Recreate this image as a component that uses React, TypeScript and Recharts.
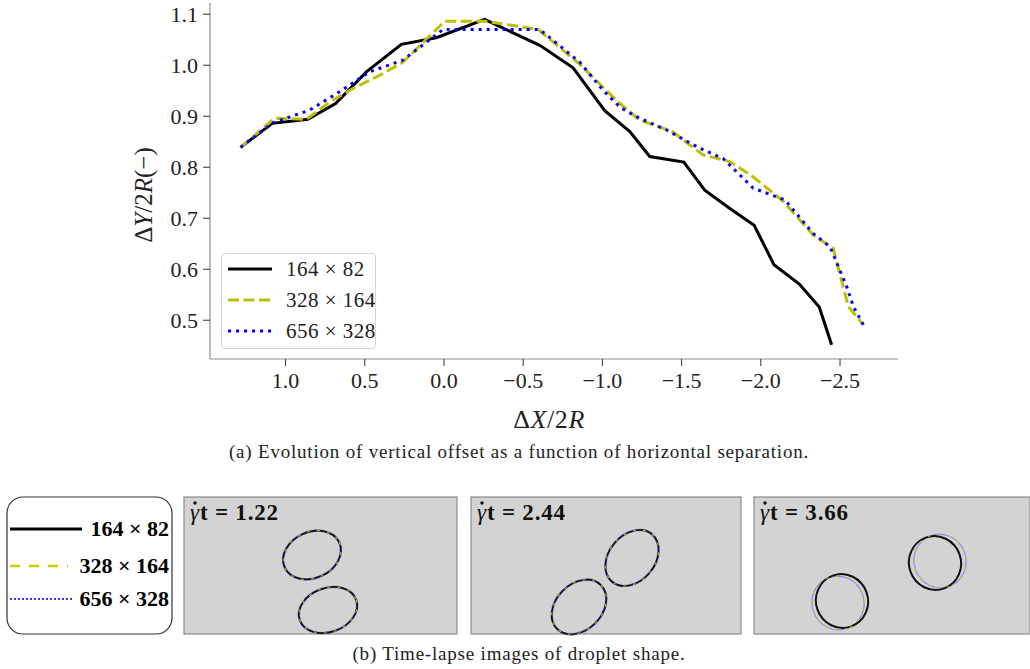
import React from 'react';
import { LineChart, Line, XAxis, YAxis, Legend } from 'recharts';

const SERIF = '"Liberation Serif", "DejaVu Serif", serif';

const xTicks = [1.0, 0.5, 0.0, -0.5, -1.0, -1.5, -2.0, -2.5];
const yTicks = [0.5, 0.6, 0.7, 0.8, 0.9, 1.0, 1.1];
const xDomain = [-2.866, 1.477];
const yDomain = [0.424, 1.122];

// 164 x 82
const coarseX = [1.284, 1.084, 0.859, 0.684, 0.49, 0.269, 0.048, -0.257, -0.426, -0.605, -0.815, -1.015, -1.173, -1.299, -1.514, -1.646, -1.8, -1.958, -2.083, -2.243, -2.369, -2.447];
const coarseY = [0.839, 0.886, 0.894, 0.925, 0.987, 1.041, 1.054, 1.09, 1.065, 1.039, 0.995, 0.911, 0.87, 0.821, 0.81, 0.755, 0.72, 0.686, 0.609, 0.571, 0.526, 0.452];

// 328 x 164
const mediumX = [1.284, 1.069, 0.869, 0.701, 0.564, 0.407, 0.259, -0.004, -0.268, -0.594, -0.857, -1.099, -1.236, -1.437, -1.636, -1.805, -1.952, -2.142, -2.331, -2.457, -2.552, -2.647];
const mediumY = [0.839, 0.896, 0.894, 0.932, 0.956, 0.98, 1.006, 1.086, 1.086, 1.07, 1.002, 0.928, 0.892, 0.871, 0.824, 0.811, 0.781, 0.733, 0.667, 0.641, 0.527, 0.491];

// 656 x 328
const fineX = [1.284, 1.08, 0.848, 0.659, 0.469, 0.259, 0.006, -0.605, -0.857, -1.004, -1.11, -1.215, -1.405, -1.615, -1.762, -1.952, -2.152, -2.331, -2.437, -2.542, -2.584, -2.647];
const fineY = [0.839, 0.887, 0.912, 0.948, 0.987, 1.01, 1.07, 1.07, 1.006, 0.951, 0.918, 0.899, 0.873, 0.837, 0.817, 0.759, 0.736, 0.67, 0.644, 0.566, 0.527, 0.491];

const zip = (xs: number[], ys: number[]) => xs.map((x, i) => ({ x, y: ys[i] }));

const series = [
  { name: '164 × 82', data: zip(coarseX, coarseY), color: '#000000', dash: undefined as string | undefined },
  { name: '328 × 164', data: zip(mediumX, mediumY), color: '#bfbf00', dash: '11 4.5' },
  { name: '656 × 328', data: zip(fineX, fineY), color: '#0000ff', dash: '3 5' },
];

// droplet outlines in the time-lapse panels (panel-local pixel geometry)
const panels = [
  { x: 184, w: 273, label: '1.22', drops: [
    { cx: 128, cy: 58, rx: 30, ry: 23, rot: -25, ox: 0, oy: 0 },
    { cx: 144, cy: 113, rx: 30, ry: 22, rot: -20, ox: 0, oy: 0 },
  ] },
  { x: 471, w: 270, label: '2.44', drops: [
    { cx: 161, cy: 61, rx: 31, ry: 23, rot: -50, ox: 0, oy: 0 },
    { cx: 108, cy: 110, rx: 31, ry: 23, rot: -45, ox: 0, oy: 0 },
  ] },
  { x: 754, w: 276, label: '3.66', drops: [
    { cx: 181, cy: 66, rx: 27, ry: 26, rot: 70, ox: 5, oy: -2 },
    { cx: 88, cy: 104, rx: 27, ry: 26, rot: 70, ox: -4, oy: 2 },
  ] },
];

const fmt = (v: number) => v.toFixed(1).replace('-', '−');

const PlotLegend = () => (
  <div style={{ width: 155, height: 96, boxSizing: 'border-box', border: '1px solid #d6d6d6', borderRadius: 4, background: 'rgba(255,255,255,0.85)' }}>
    <svg width={153} height={94} style={{ display: 'block' }}>
      {series.map((s, i) => (
        <g key={s.name}>
          <line x1={6} x2={50} y1={15 + i * 31} y2={15 + i * 31} stroke={s.color} strokeWidth={3} strokeDasharray={s.dash} />
          <text x={64} y={22 + i * 31} fontFamily={SERIF} fontSize={21} letterSpacing={0.5} fill="#222">{s.name}</text>
        </g>
      ))}
    </svg>
  </div>
);

const YTitle = () => (
  <text transform="translate(143, 195) rotate(-90)" textAnchor="middle" dominantBaseline="central" fontFamily={SERIF} fontSize={25} fill="#222">
    Δ<tspan fontStyle="italic">Y</tspan>/2<tspan fontStyle="italic">R</tspan>(−)
  </text>
);

const XTitle = (p: any) => {
  const vb = p.viewBox || { x: 210, y: 359, width: 688, height: 40 };
  return (
    <text x={549} y={vb.y + 69} textAnchor="middle" fontFamily={SERIF} fontSize={26} letterSpacing={0.6} fill="#222">
      Δ<tspan fontStyle="italic">X</tspan>/2<tspan fontStyle="italic">R</tspan>
    </text>
  );
};

const Droplets = () => (
  <svg width={1030} height={189} style={{ position: 'absolute', left: 0, top: 480 }}>
    <rect x={7} y={17} width={165} height={137} rx={16} fill="#fff" stroke="#333" strokeWidth={1.2} />
    <line x1={10} x2={82} y1={49} y2={49} stroke="#000" strokeWidth={3} />
    <text x={169} y={56} textAnchor="end" fontFamily={SERIF} fontWeight="bold" fontSize={22}>164 × 82</text>
    <line x1={10} x2={68} y1={86} y2={86} stroke="#cccc00" strokeWidth={2.5} strokeDasharray="10 9" />
    <text x={169} y={93} textAnchor="end" fontFamily={SERIF} fontWeight="bold" fontSize={22}>328 × 164</text>
    <line x1={10} x2={72} y1={119} y2={119} stroke="#3333ff" strokeWidth={2.2} strokeDasharray="2 2" />
    <text x={169} y={126} textAnchor="end" fontFamily={SERIF} fontWeight="bold" fontSize={22}>656 × 328</text>
    {panels.map((p) => (
      <g key={p.label} transform={`translate(${p.x}, 17)`}>
        <rect x={0} y={0} width={p.w} height={137} fill="#d3d3d3" stroke="#8c8c8c" strokeWidth={1.2} />
        <text x={6} y={23} fontFamily={SERIF} fontWeight="bold" fontSize={23} letterSpacing={0.8} fill="#111">
          <tspan fontStyle="italic" fontWeight="normal">γ</tspan>t = {p.label}
        </text>
        <circle cx={11} cy={6} r={1.7} fill="#111" />
        {p.drops.map((d, i) => (
          <g key={i}>
            <ellipse cx={d.cx + d.ox} cy={d.cy + d.oy} rx={d.rx} ry={d.ry} transform={`rotate(${d.rot} ${d.cx + d.ox} ${d.cy + d.oy})`} fill="none" stroke="#8c8cf0" strokeWidth={d.ox ? 1.2 : 2.6} />
            <ellipse cx={d.cx} cy={d.cy} rx={d.rx} ry={d.ry} transform={`rotate(${d.rot} ${d.cx} ${d.cy})`} fill="none" stroke="#111" strokeWidth={d.ox ? 2 : 1.7} />
            <ellipse cx={d.cx + d.ox} cy={d.cy + d.oy} rx={d.rx} ry={d.ry} transform={`rotate(${d.rot} ${d.cx + d.ox} ${d.cy + d.oy})`} fill="none" stroke="#c8c800" strokeWidth={1} strokeDasharray="3 7" />
          </g>
        ))}
      </g>
    ))}
  </svg>
);

export default function App() {
  return (
    <div style={{ position: 'absolute', left: 0, top: 0, width: 1030, height: 669, background: '#fff', fontFamily: SERIF, color: '#222' }}>
      <LineChart width={1030} height={440} margin={{ top: 3, right: 132, left: 120, bottom: 41 }}>
        <XAxis
          dataKey="x"
          type="number"
          domain={xDomain}
          reversed
          allowDataOverflow
          ticks={xTicks}
          tickFormatter={fmt}
          height={40}
          tickSize={7}
          tickMargin={6}
          axisLine={{ stroke: '#8c8c8c', strokeWidth: 1.2 }}
          tickLine={{ stroke: '#333' }}
          tick={{ fontSize: 22, fontFamily: SERIF, fill: '#222' }}
          label={XTitle}
        />
        <XAxis xAxisId="top" orientation="top" type="number" domain={xDomain} reversed allowDataOverflow height={0} tick={false} tickLine={false} axisLine={{ stroke: '#8c8c8c', strokeWidth: 1.2 }} />
        <YAxis
          type="number"
          domain={yDomain}
          allowDataOverflow
          ticks={yTicks}
          tickFormatter={fmt}
          width={90}
          tickSize={7}
          tickMargin={5}
          axisLine={{ stroke: '#8c8c8c', strokeWidth: 1.2 }}
          tickLine={{ stroke: '#333' }}
          tick={{ fontSize: 22, fontFamily: SERIF, fill: '#222' }}
          label={YTitle}
        />
        <YAxis yAxisId="right" orientation="right" type="number" domain={yDomain} allowDataOverflow width={0} tick={false} tickLine={false} axisLine={{ stroke: '#8c8c8c', strokeWidth: 1.2 }} />
        {series.map((s) => (
          <Line
            key={s.name}
            data={s.data}
            dataKey="y"
            name={s.name}
            type="linear"
            stroke={s.color}
            strokeWidth={3}
            strokeDasharray={s.dash}
            dot={false}
            activeDot={false}
            isAnimationActive={false}
          />
        ))}
        <Legend
          layout="vertical"
          align="center"
          verticalAlign="middle"
          content={() => <PlotLegend />}
          wrapperStyle={{ left: 221, top: 253, width: 155, height: 96 }}
        />
      </LineChart>
      <div style={{ position: 'absolute', left: 119, top: 441, width: 800, textAlign: 'center', fontSize: 19, letterSpacing: 0.8, lineHeight: '22px' }}>
        (a) Evolution of vertical offset as a function of horizontal separation.
      </div>
      <Droplets />
      <div style={{ position: 'absolute', left: 119, top: 643, width: 800, textAlign: 'center', fontSize: 19, letterSpacing: 0.8, lineHeight: '22px' }}>
        (b) Time-lapse images of droplet shape.
      </div>
    </div>
  );
}
